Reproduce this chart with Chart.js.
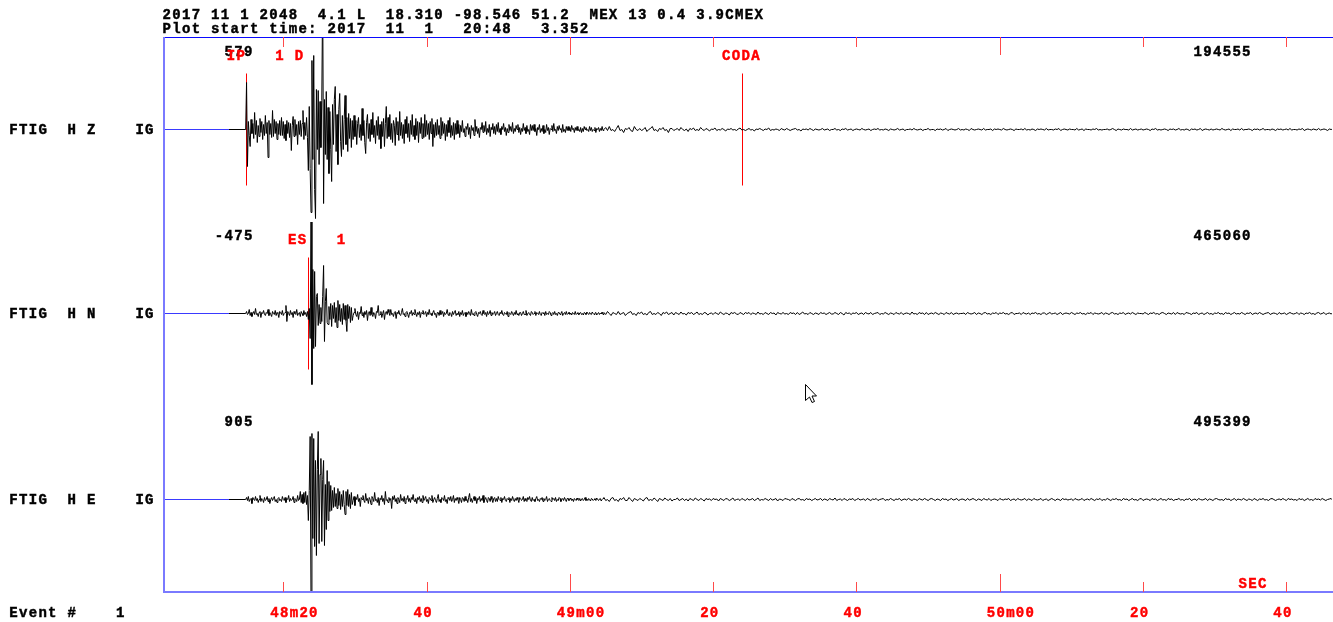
<!DOCTYPE html>
<html>
<head>
<meta charset="utf-8">
<script src="https://cdn.jsdelivr.net/npm/chart.js@4.4.1/dist/chart.umd.min.js"></script>
<style>
  html, body { margin: 0; padding: 0; background: #ffffff; }
  #wrap { position: absolute; left: 0; top: 0; width: 1333px; height: 622px; }
  canvas { display: block; }
</style>
</head>
<body>
<div id="wrap"><canvas id="seis" width="1333" height="622"></canvas></div>
<script>
// Event and plot window (seconds after 20:48)
const headerLine = '2017 11 1 2048  4.1 L  18.310 -98.546 51.2  MEX 13 0.4 3.9CMEX';
const startLine = 'Plot start time: 2017  11  1   20:48   3.352';
const plotStart = 3.352;
const plotEnd = 166.37;
const leadTime = 12.42;      // first sample drawn as trace
const onsetStart = 14.75;    // onset section, fine sampling
const onsetStep = 0.125;
const codaStart = 64.75;     // coda section, coarser sampling
const codaStep = 0.25;

// Channels
const channelLabels = ['FTIG  H Z    IG', 'FTIG  H N    IG', 'FTIG  H E    IG'];
const channelBase = [462.5, 278.5, 92.5];   // trace zero level on the shared y scale
const maxAmpLabels = ['579', '-475', '905'];
const rightLabels = ['194555', '465060', '495399'];

// Time axis
const tickValues = [20, 40, 60, 80, 100, 120, 140, 160];
const tickLabels = ['48m20', '40', '49m00', '20', '40', '50m00', '20', '40'];
const tickMinute = [false, false, true, false, false, true, false, false];

// Phase picks
const pickChannel = [0, 1, 0];
const pickTime = [14.838, 23.408, 83.98];
const pickName = ['IP', 'ES', 'CODA'];
const pickInfo = ['1 D', '1', ''];

// Z component, onset (0.125 s samples, scaled amplitude)
const zOnset = [
  0, 47, -37, 8, -6, -17, 10, -4, 6, -9, 17, -5, 9, -13, 4, -7, 11, -3, 8, -10, 5, -6, 14, -4, 7, -28, 9, -5, 6, -8, 19, -7, 10, -4, 8, -10, 6, -5, 9, -6,
  12, -6, 8, -9, 5, -11, 9, -4, 7, -8, 6, -21, 4, 13, -7, 10, -6, 5, -15, 8, -5, 9, -7, 6, 19, -10, 7, -6, 12, -8, -41, 23, -39, -83, 69, -30, 74, -60, -89, 40,
  -20, 39, -35, 28, -18, 29, 140, -74, 30, -25, 38, -30, 22, -44, 18, -20, -52, 25, -15, 30, 43, -22, 15, -35, 20, 36, -12, -27, 14, -20, 10, 34, -15, 12, -22, 16, -9, 11, -18, 9,
  -10, 14, -7, 9, -15, 6, 12, -8, 5, -11, 21, -6, 9, -13, -24, 7, 15, -9, 6, -12, 10, -5, 17, -8, 4, -14, 9, -6, 13, -10, 5, -19, 8, -7, 11, -17, 6, 23, -9, 12,
  -7, 15, -10, 6, -13, 9, 4, -16, 12, -5, 8, -11, 18, -6, 7, -9, 5, -14, 10, -4, 13, -8, 6, -12, 9, -5, 15, -7, 4, -10, 11, -6, 8, -13, 7, -4, 12, -9, 6, -8,
  15, -7, 9, -5, 6, -10, 8, -4, 11, -17, 5, -8, 7, -6, 10, -5, 4, -9, 12, -6, 8, -4, 6, -11, 5, -7, 9, -3, 12, -8, 4, -6, 7, -10, 6, -5, 9, -4, 5, -8,
  4, -2, 9, -3, 1, -7, 3, 0, 6, -5, 2, -9, 4, -1, 2, -6, 10, -2, 3, -4, 1, -8, 2, 0, 7, -3, 4, -2, 8, -5, 1, -3, 5, -7, 2, 0, 6, -4, 3, -5,
  5, -2, 7, -3, 1, -5, 3, 0, 6, -2, 2, -6, 1, -3, 5, -1, 3, -2, 7, -4, 1, -2, 4, 0, 5, -3, 2, -5, 1, -2, 6, -1, 2, -4, 4, -2, 0, -5, 5, -1,
  4, -1, 5, -2, 1, -6, 2, 0, 5, -3, 1, -2, 4, -4, 0, -3, 5, -1, 2, -5, 1, 0, 4, -2, 6, -1, 0, -4, 3, -1, 4, 0, 1, -3, 5, -2, 0, -3, 3, -1,
  3, -1, 2, -2, 4, 0, 1, -3, 2, -1, 3, -1, 0, -2, 2, -3, 1, -2, 3, 0, 2, -1, 0, -2, 3, -1, 2, -2, 0, -1, 2, -3, 1, 0, 2, -2, 1, -1, 3, -1
];

// Z component, coda (0.25 s samples)
const zCoda = [
  0, 2, -1, 3, -1, 0, -2, 1, 4, -1, 0, -3, 1, 0, 2, -1, -2, 3, 0, -1,
  1, -1, 0, 2, -2, 0, 1, 3, -1, 0, -2, 1, 0, 2, -1, 0, -3, 1, 1, -1,
  0, 1, -1, 2, 0, -1, 0.5, -2, 1, 0, 1.5, -1, 0, -1, 2, 0, -1, 1, 0, -1.5,
  0.5, 0, 1.5, -1, 0, -0.5, 1, 0, -1.5, 0.5, 0, 1, -0.5, 0, -1, 0.5, 1.5, -0.5, 0, -1,
  0, 1, -0.5, 0, -1.5, 0.5, 0, 1, 0, -1, 0.5, 0, 1.5, -1, 0, -0.5, 0.5, 0, -1, 1,
  0, -0.5, 1, 0, -1, 0, 0.5, 1, -0.5, 0, -1.5, 0.5, 0, 0.5, -0.5, 1, 0, -1, 0.5, 0,
  -0.5, 0, 1, -0.5, 0, 0.5, -1, 0, 0, 1, -0.5, 0, -1, 0.5, 0, 1, -0.5, 0, 0.5, -1,
  0, 0.5, 0, -0.5, 1, 0, -0.5, 0, 0.5, -1, 0, 0.5, 0, 1, -0.5, 0, -0.5, 0.5, 0, -1,
  0.5, 0, -0.5, 0, 1, -0.5, 0, 0.5, -1, 0, 0, 0.5, -0.5, 1, 0, -0.5, 0, 0.5, -1, 0,
  0, 1, -0.5, 0, 0, -1, 0.5, 0, 0.5, -0.5, 0, 1, -1, 0, 0.5, 0, -0.5, 0, 1, -0.5,
  0, -0.5, 0.5, 0, -1, 1, 0, -0.5, 0, 0.5, 0, -0.5, 1, -0.5, 0, 0, 0.5, -1, 0.5, 0,
  0.5, 0, -0.5, 1, 0, -0.5, 0, 0.5, 0, -1, 0.5, 0, 0, 0.5, -0.5, 1, -0.5, 0, -0.5, 0.5,
  0, -1, 0.5, 0, 0.5, 0, -0.5, 1, -0.5, 0, 0, -0.5, 0.5, 0, 1, -1, 0, 0.5, 0, -0.5,
  0.5, 0, 0, -0.5, 1, -0.5, 0, 0.5, -1, 0.5, 0, 0, -0.5, 0.5, 0, 1, -0.5, 0, -0.5, 0,
  0, 0.5, -0.5, 0, 1, 0, -1, 0.5, 0, -0.5, 0.5, 0, 0, -0.5, 1, -0.5, 0, 0.5, -0.5, 0,
  0.5, -0.5, 0, 0.5, 0, -1, 0.5, 0, 1, -0.5, 0, -0.5, 0, 0.5, 0, -1, 0.5, 0, 0.5, -0.5,
  0, 1, -0.5, 0, -0.5, 0.5, 0, -1, 0.5, 0, 0.5, -0.5, 0, 1, -1, 0, 0.5, 0, -0.5, 0.5,
  -0.5, 0, 0.5, 0, -0.5, 1, 0, -0.5, 0, 0.5, -1, 0.5, 0, 0, 0.5, -0.5, 1, -0.5, 0, 0,
  0.5, 0, -1, 0.5, 0, 0.5, -0.5, 0, 1, -0.5, 0, 0, -0.5, 0.5, 0, -1, 0.5, 0, 0.5, -0.5,
  0, 0.5, -0.5, 1, -0.5, 0, 0, -0.5, 0.5, 0, 1, -1, 0, 0.5, 0, -0.5, 0.5, 0, -0.5, 1,
  -0.5, 0, 0.5, 0, -1, 0.5, 0, 0.5, -0.5, 0, 0, 1, -0.5, 0, -0.5, 0.5, 0, -1, 0.5, 0
];

// N component, onset
const nOnset = [
  0, 2, -1, 0, 4, -2, 1, -3, 0, 2, -1, 5, -1, 0, -3, 1, 2, -4, 1, 0, 3, -1, -2, 1, 0, 4, -2, 1, -1, -3, 2, 0, -1, 3, -2, 1, 0, -4, 2, 1,
  -1, 3, -2, 0, 1, 8, -8, 2, 0, -2, 3, -1, 1, -4, 2, 0, -1, 4, -2, 0, 1, -3, 2, 0, -2, 3, -1, 1, -3, 2, -6, 5, -25, 93, -71, 44, -35, 42, -33, 17,
  20, -12, 9, -10, 6, -8, 17, 48, -28, 12, 25, -9, -11, 7, -6, 10, -13, 8, -5, 11, -9, 6, -14, 13, -7, 9, -8, 5, -11, 10, -6, 8, -7, -18, 9, -5, 7, -9, 6, -7,
  -2, 1, 5, -1, -3, 2, -6, 1, 0, 7, -2, 1, -4, 2, -1, 3, -7, 1, 2, -2, 6, -1, -3, 1, 0, -5, 2, 1, 8, -2, -1, 2, -4, 0, 3, -6, 1, 2, -1, 4,
  1, -2, 4, -1, 0, -3, 1, 2, -5, 1, 0, 3, -1, -2, 1, 5, -1, 0, -3, 1, 2, -1, -4, 1, 0, 3, -2, 1, -1, 4, 0, -3, 1, -1, 2, -4, 1, 0, 3, -1,
  0, 2, -3, 1, -1, 4, -1, 0, -2, 1, 3, -1, 0, -4, 1, 1, -2, 3, -1, 0, 2, -3, 1, -1, 0, 4, -1, -2, 1, 0, -3, 2, -1, 1, 3, -2, 0, -1, 2, -3,
  1, -1, 3, -2, 0, 1, -3, 1, -1, 2, 0, -2, 4, -1, 0, -2, 1, 2, -1, -3, 1, 0, 2, -1, -2, 3, 0, -1, 1, -3, 2, -1, 0, 3, -2, 1, -1, 0, 2, -2,
  0, 2, -1, -2, 1, 0, 3, -1, -2, 1, 0, -1, 2, -3, 1, 0, -1, 2, 0, -2, 1, -1, 3, -1, 0, -2, 1, 1, -2, 0, 2, -1, -1, 3, -2, 0, 1, -1, -2, 2,
  1, -1, 0, 2, -2, 1, 0, -1, 2, -1, -2, 1, 0, 1, -2, 2, -1, 0, -1, 2, 1, -2, 0, 1, -1, 2, -1, 0, -2, 1, 1, -1, 0, 2, -2, 0, 1, -1, 2, -1,
  0, 1.5, -1, 0.5, -1.5, 1, 0, -1, 2, -1, 0, 1, -1.5, 0.5, 1, -1, 0, -1.5, 1, 0.5, -1, 1.5, 0, -1, 1, -0.5, -1, 1.5, 0, -1, 0.5, 1, -1.5, 0, 1, -1, 0.5, -0.5, 1.5, -1
];

// N component, coda
const nCoda = [
  1, -1, 2, 0, -2, 1, 0, -1, 2, -1, 0, 1, -2, 0, 1, 2, -1, 0, -2, 1,
  0, 1.5, -1, 0, -1.5, 1, 2, -1, 0, -1, 1, 0, -2, 1, 0, 1.5, -1, 0, 1, -1.5,
  1, 0, -1, 1.5, -0.5, 0, -1.5, 1, 0, 1, -1, 0, 1.5, -1, 0, -1, 1, 0.5, -1.5, 0,
  0.5, -1, 1, 0, -1, 1.5, 0, -1, 0.5, 0, -1.5, 1, 0, 1, -0.5, -1, 1, 0, -1, 1,
  0, 1, -1, 0.5, 0, -1, 1.5, -0.5, 0, -1, 1, 0, -1, 1, 0, 0.5, -1.5, 1, 0, -0.5,
  1, -0.5, 0, -1, 1, 0, 0.5, -1, 1, -1, 0, 1.5, -0.5, 0, -1, 1, 0, -1, 0.5, 0,
  -1, 1, 0, 0.5, -1, 0, 1, -0.5, -0.5, 1, 0, -1, 1, 0, -1.5, 1, 0, 0.5, -1, 0.5,
  0, 1, -1, 0, 0.5, -1, 1, 0, -0.5, 1, -1, 0, 0.5, 1, -1, 0, -0.5, 1, 0, -1,
  0.5, 0, -1, 1, 0, -0.5, 1, -1, 0, 0.5, 0, -1, 1.5, -0.5, 0, -1, 1, 0, 0.5, -1,
  1, -1, 0, 0.5, -0.5, 1, 0, -1, 0.5, 0, -1, 1, 0, -0.5, 1, -1, 0, 0.5, -0.5, 0,
  0, 0.5, -1, 1, 0, -0.5, 0, 1, -1, 0.5, 0, -1, 0.5, 1, -0.5, 0, -1, 0.5, 0, 1,
  -1, 0.5, 0, 1, -0.5, 0, -1, 0.5, 1, -1, 0, 0, 0.5, -1, 1, 0, -0.5, 0.5, -1, 0.5,
  0, 1, -0.5, 0, -1, 0.5, 0.5, -1, 0, 1, -0.5, 0, 0.5, -1, 0, 1, -1, 0, 0.5, 0,
  -0.5, 1, 0, -1, 0.5, 0, 1, -0.5, 0, -1, 0.5, 0, 1, -1, 0.5, 0, -0.5, 0, 1, -1,
  0.5, 0, -1, 0.5, 1, -0.5, 0, -1, 0.5, 0, 1, -1, 0, 0.5, -0.5, 1, 0, -1, 0.5, 0,
  0, -0.5, 1, 0, -1, 0.5, 0, 1, -0.5, 0, -1, 0.5, 1, 0, -1, 0.5, 0, -0.5, 1, -1,
  1, 0, -0.5, 0, -1, 1, 0.5, 0, -1, 0.5, 0, 1, -1, 0, 0.5, -1, 0, 1, -0.5, 0,
  -1, 0.5, 0, 1, -0.5, 0, -1, 1, 0, 0.5, -1, 0, 1, -0.5, 0, -0.5, 1, 0, -1, 0.5,
  0, 1, -1, 0, 0.5, -0.5, 1, 0, -1, 0, 0.5, 1, -1, 0, 0.5, 0, -1, 1, -0.5, 0,
  0.5, -1, 0, 1, 0, -0.5, 0, 1, -1, 0.5, 0, -1, 0.5, 0, 1, -0.5, 0, -1, 0.5, 1,
  -0.5, 0, 1, -1, 0, 0.5, -0.5, 1, 0, -1, 0, 0.5, 1, -1, 0, 0.5, -0.5, 0, 1, -1
];

// E component, onset
const eOnset = [
  0, 2, -1, 3, -2, 0, 1, -4, 2, 0, -1, 3, -1, 1, -3, 0, 4, -2, 1, 0, -3, 2, -1, 0, 3, -2, 1, -4, 0, 2, -1, 1, 3, -2, 0, -3, 1, 2, -1, 0,
  -2, 3, 0, -1, 2, -3, 1, 0, 4, -2, 1, -1, 0, 3, -3, 1, 0, -2, 4, -1, 0, 8, -3, 5, -4, 7, -3, 8, -5, 4, -21, 9, 63, -110, 66, -39, 61, -47, 39, -56,
  30, 68, -44, 25, 41, -42, 20, 39, -46, 15, -30, 29, -21, 18, -12, 14, -11, 9, -8, 12, -7, 6, -9, 11, -6, 8, -10, 5, -7, 9, -5, -15, 8, -6, 10, -7, 5, -9, 7, -5,
  -1, 3, -6, 2, 0, 5, -2, 1, -7, 2, 0, 4, -1, -3, 6, -1, 1, -4, 2, 0, -5, 3, 1, -2, 7, -1, 0, -3, 2, -6, 1, 0, 4, -2, 1, -5, 8, -1, 0, -3,
  2, -1, 1, -9, 3, 0, 4, -2, 1, -4, 2, 0, -3, 5, -1, 1, -2, 3, -4, 1, 0, 4, -2, 1, -3, 2, 0, 5, -1, -2, 1, -4, 2, 0, 3, -2, 1, -3, 4, -1,
  1, 3, -2, 0, -4, 2, 1, -1, 4, -3, 0, 2, -1, -3, 1, 5, -2, 0, -3, 2, 1, -1, 4, -2, 0, -4, 2, 1, -1, 3, -2, 0, 4, -3, 1, -1, 2, 0, -4, 2,
  0, -3, 2, 1, -2, 3, -1, 0, -3, 2, 6, -2, 1, -3, 0, 3, -1, 2, -4, 1, 0, 3, -2, 1, -1, 4, -3, 0, 2, -1, -3, 2, 1, -2, 3, 0, -3, 1, 2, -2,
  1, -2, 3, 0, -1, 2, -3, 1, 0, 3, -1, -2, 1, 0, 2, -3, 1, -1, 3, 0, -2, 1, -1, 2, 0, -3, 2, 1, -1, 0, 3, -2, 1, -1, -2, 2, 0, 3, -1, -2,
  2, -1, 0, -2, 1, 3, -1, 0, -2, 1, 0, 2, -2, 1, -1, 0, 3, -2, 0, 1, -1, -2, 2, 0, 1, -1, 2, -2, 0, -1, 2, 1, -2, 0, 1, -1, 2, 0, -2, 1,
  1, -1, 0, 1.5, -1, 0.5, -2, 1, 0, -1, 1.5, 0, -1, 1, -1.5, 0.5, 1, -1, 0, 2, -1, 0.5, -1, 1, 0, -1.5, 1, 0.5, -1, 0, 1, -1, 1.5, 0, -1, 0.5, 1, -1.5, 0, 1
];

// E component, coda
const eCoda = [
  2, -1, 0, -2, 1, 2, -1, 0, -2, 1, 0, 2, -1, -1, 2, 0, -2, 1, 0, -1,
  1, 0, -1.5, 1, 2, -1, 0, -1, 1.5, 0, -2, 1, 0, -1, 1.5, 0, -1, 1, -1.5, 0,
  0, 1.5, -1, 0, 1, -1, 0.5, -1.5, 1, 0, -1, 1.5, 0, -1, 1, 0, -1.5, 1, 0, 0.5,
  -1, 1, 0, 0.5, -1.5, 1, 0, -1, 1, 0.5, -1, 0, 1.5, -1, 0, 0.5, -1, 1, 0, -1,
  1, -0.5, 0, 1, -1, 0, 1.5, -1, 0, -0.5, 1, 0, -1, 1, -0.5, 0, 1, -1.5, 0.5, 0,
  -1, 1, 0.5, 0, -1, 1, 0, -1, 0.5, 1, -0.5, 0, -1, 1, 0, 0.5, -1, 0, 1, -0.5,
  0, 1, -1, 0.5, 0, -1, 1, 0, -0.5, 1.5, -1, 0, 0.5, -1, 1, 0, -1, 0.5, 0, 1,
  -1, 0, 1, -0.5, 0, 0.5, -1, 1, 0, -1, 0.5, 0, 1, -1, 0, 0.5, 1, -1, 0, -0.5,
  1, 0, -1, 0.5, 0, 1, -1, 0, 0.5, -0.5, 1, 0, -1, 0.5, 0, -1, 1, 0, -0.5, 1,
  0, -1, 0.5, 1, 0, -1, 0.5, 0, -1, 1, 0, 0.5, -1, 0, 1, -0.5, 0, 1, -1, 0,
  0.5, 0, -1, 1, -0.5, 0, 1, 0, -1, 0.5, 0, -1, 1, 0, -0.5, 1, -1, 0, 0.5, 0,
  -1, 1, 0, -0.5, 0.5, 0, 1, -1, 0, 0.5, -1, 1, 0, -0.5, 0, 1, -1, 0.5, 0, -1,
  1, 0, -0.5, 0, 1, -1, 0, 0.5, -1, 0, 1, 0, -1, 0.5, 0, -1, 1, 0, 0.5, -0.5,
  0, 0.5, -1, 1, 0, -0.5, 0, 1, -1, 0, 0.5, -0.5, 1, 0, -1, 0.5, 0, 1, -1, 0,
  -0.5, 1, 0, -1, 0.5, 0, 1, -0.5, 0, -1, 1, 0, 0.5, -1, 0, 1, -0.5, 0, -1, 0.5,
  1, -1, 0, 0.5, 0, -1, 1, 0, 0.5, -1, 0, 1, -0.5, 0, -1, 1, 0, 0.5, -1, 0,
  0, 1, -0.5, 0, -1, 0.5, 0, 1, -1, 0, 0.5, -1, 1, 0, -0.5, 0, 1, -1, 0.5, 0,
  -1, 0.5, 1, 0, -0.5, 0, -1, 1, 0, 0.5, -1, 0, 1, -1, 0.5, 0, -0.5, 1, 0, -1,
  0.5, 0, -1, 1, 0, -1, 0.5, 0, 1, -0.5, 0, -1, 0.5, 1, 0, -1, 0, 0.5, -0.5, 1,
  0, -1, 1, 0, 0.5, -0.5, 0, -1, 1, 0, 0.5, -1, 0, 1, -0.5, 0, -1, 1, 0, 0.5,
  -0.5, 1, 0, -1, 0, 0.5, 1, -1, 0, 0.5, -0.5, 0, 1, -1, 0, 0.5, 0, -1, 1, -0.5
];

const onsets = [zOnset, nOnset, eOnset];
const codas = [zCoda, nCoda, eCoda];

// Each channel keeps to its own band of the plot
const panelClip = [
  { left: 0, right: 0, top: 0, bottom: -370 },
  { left: 0, right: 0, top: -185, bottom: -185 },
  { left: 0, right: 0, top: -370, bottom: 0 }
];

function tracePoints(onset, coda, base) {
  const pts = [{ x: leadTime, y: base }];
  onset.forEach((a, i) => pts.push({ x: onsetStart + i * onsetStep, y: base + a }));
  coda.forEach((a, i) => pts.push({ x: codaStart + i * codaStep, y: base + a }));
  return pts;
}

const datasets = [];
onsets.forEach((onset, k) => {
  datasets.push({
    label: channelLabels[k],
    data: tracePoints(onset, codas[k], channelBase[k]),
    borderColor: '#000000',
    borderWidth: 1,
    pointRadius: 0,
    tension: 0,
    clip: panelClip[k]
  });
  // unrecorded stretch before the trace
  datasets.push({
    label: channelLabels[k] + ' lead',
    data: [{ x: plotStart, y: channelBase[k] }, { x: leadTime, y: channelBase[k] }],
    borderColor: '#3a3aff',
    borderWidth: 1,
    pointRadius: 0,
    clip: panelClip[k]
  });
});

const MONO = 'bold 14px "Liberation Mono", "DejaVu Sans Mono", monospace';
const CELL = 9.7;
const RED = '#ff0000';
const TICK_RED = '#ff4a4a';

function text(ctx, str, x, y, color) {
  ctx.fillStyle = color;
  ctx.strokeStyle = color;
  ctx.lineWidth = 0.45;
  ctx.fillText(str, x, y);
  ctx.strokeText(str, x, y);
}

const seismoDecor = {
  id: 'seismoDecor',
  beforeDatasetsDraw(chart) {
    const { ctx, scales: { x, y } } = chart;
    ctx.save();
    ctx.fillStyle = RED;
    pickTime.forEach((t, k) => {
      const px = Math.round(x.getPixelForValue(t));
      const base = channelBase[pickChannel[k]];
      const top = y.getPixelForValue(base + 56);
      const bot = y.getPixelForValue(base - 56);
      ctx.fillRect(px, top, 1, bot - top);
    });
    ctx.restore();
  },
  afterDatasetsDraw(chart) {
    const { ctx, chartArea: a, scales: { x, y } } = chart;
    ctx.save();
    ctx.font = MONO;
    ctx.textAlign = 'left';
    ctx.textBaseline = 'alphabetic';
    if ('letterSpacing' in ctx) ctx.letterSpacing = '1.3px';

    // frame
    ctx.fillStyle = '#0a0aff';
    ctx.fillRect(a.left, a.top, a.right - a.left + 1, 1);
    ctx.fillStyle = '#7a7aff';
    ctx.fillRect(a.left - 1, a.top, 2, a.bottom - a.top + 1);
    ctx.fillRect(a.left, a.bottom - 1, a.right - a.left + 1, 2);

    // time ticks, top and bottom
    ctx.fillStyle = TICK_RED;
    tickValues.forEach((v, i) => {
      const px = Math.round(x.getPixelForValue(v));
      const len = tickMinute[i] ? 18 : 10;
      ctx.fillRect(px, a.top, 1, len);
      ctx.fillRect(px, a.bottom - len, 1, len);
    });
    tickValues.forEach((v, i) => {
      const px = x.getPixelForValue(v);
      text(ctx, tickLabels[i], px - 13, 617, RED);
    });

    // header
    text(ctx, headerLine, 162.6, 19.3, '#000000');
    text(ctx, startLine, 162.6, 33.3, '#000000');

    // channel labels
    channelBase.forEach((b, k) => {
      const py = y.getPixelForValue(b);
      text(ctx, channelLabels[k], 9.3, py + 4.7, '#000000');
      const amp = maxAmpLabels[k];
      text(ctx, amp, 253.6 - amp.length * CELL, py - 73.5, '#000000');
      text(ctx, rightLabels[k], 1193.6, py - 73.5, '#000000');
    });

    // pick labels
    pickTime.forEach((t, k) => {
      const px = x.getPixelForValue(t);
      const py = y.getPixelForValue(channelBase[pickChannel[k]]);
      text(ctx, pickName[k], px - 19.6, py - 70, RED);
      if (pickInfo[k]) text(ctx, pickInfo[k], px + 29, py - 70, RED);
    });

    text(ctx, 'SEC', 1238.6, 587.5, RED);
    text(ctx, 'Event #    1', 9.3, 617, '#000000');

    // pointer
    ctx.letterSpacing = '0px';
    ctx.translate(805.5, 384.5);
    ctx.beginPath();
    ctx.moveTo(0, 0);
    ctx.lineTo(0, 16);
    ctx.lineTo(4, 12.5);
    ctx.lineTo(6.5, 18);
    ctx.lineTo(9, 17);
    ctx.lineTo(6.5, 11.5);
    ctx.lineTo(11, 11.5);
    ctx.closePath();
    ctx.fillStyle = '#ffffff';
    ctx.fill();
    ctx.strokeStyle = '#000000';
    ctx.lineWidth = 1;
    ctx.stroke();
    ctx.restore();
  }
};

new Chart(document.getElementById('seis'), {
  type: 'line',
  data: { datasets },
  options: {
    responsive: false,
    animation: false,
    devicePixelRatio: 1,
    events: [],
    layout: { padding: { left: 164, top: 37, right: 1, bottom: 30 } },
    scales: {
      x: { type: 'linear', display: false, min: plotStart, max: plotEnd },
      y: { type: 'linear', display: false, min: 0, max: 555 }
    },
    plugins: {
      legend: { display: false },
      tooltip: { enabled: false },
      title: { display: false }
    }
  },
  plugins: [seismoDecor]
});
</script>
</body>
</html>
